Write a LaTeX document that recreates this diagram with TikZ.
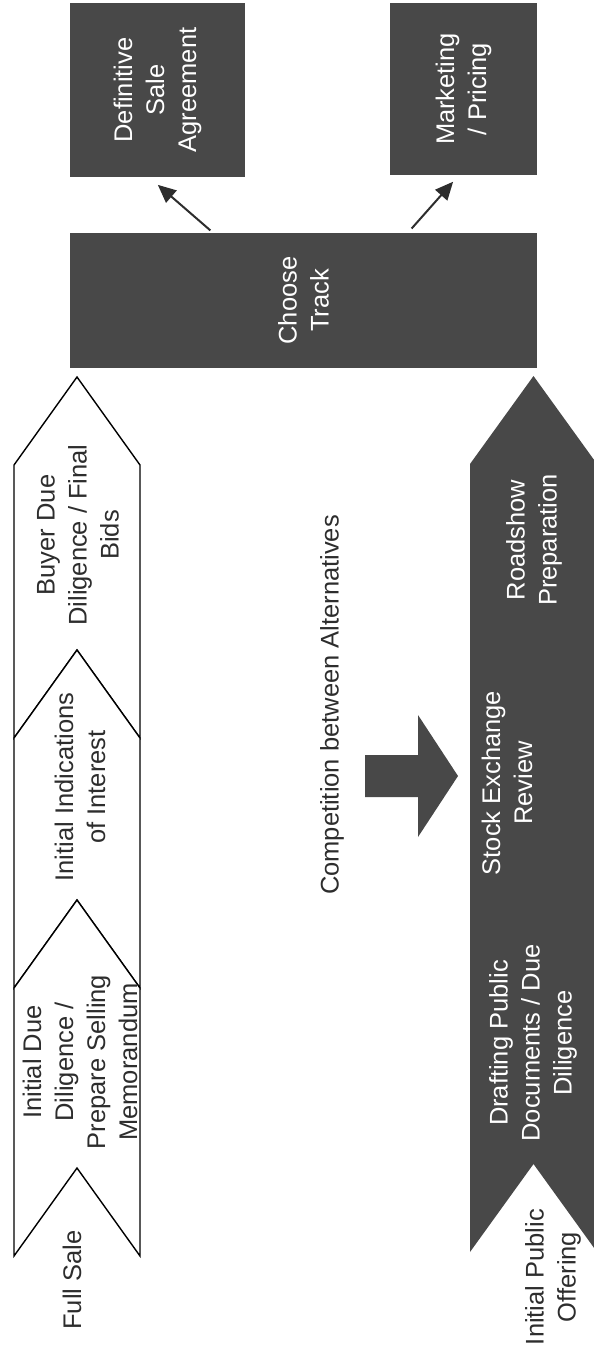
\documentclass[tikz,border=0pt]{standalone}
\usepackage{fontspec}
\setmainfont{Liberation Sans}
\usetikzlibrary{arrows.meta,calc}
\definecolor{boxgray}{RGB}{72,72,72}
\definecolor{inkgray}{RGB}{45,45,45}
\tikzset{
  stage/.style={draw=black,line width=1.4pt,fill=white},
  darkbox/.style={fill=boxgray,rotate=90,text=white,align=center,inner sep=0pt,outer sep=0pt,
    font=\fontsize{25.5}{32}\selectfont},
  steptext/.style={rotate=90,align=center,text=inkgray,font=\fontsize{25.5}{32}\selectfont},
  phasetext/.style={steptext,text=white},
  choice/.style={draw=inkgray,line width=2pt,-{Triangle[length=18pt,width=16pt]}}
}
\begin{document}
\begin{tikzpicture}[x=1pt,y=-1pt]
\useasboundingbox (0,0) rectangle (594,1354);
% full sale stages
\foreach \ya/\yb in {377/650,650/900,900/1168}
  \draw[stage] (14,\ya+88) -- (77,\ya) -- (140,\ya+88) -- (140,\yb+88) -- (77,\yb) -- (14,\yb+88) -- cycle;
\node[steptext] (initdue) at (80,1062) {Initial Due\\Diligence /\\Prepare Selling\\Memorandum};
\node[steptext] (indic) at (80,787) {Initial Indications\\of Interest};
\node[steptext] (buyer) at (78,535) {Buyer Due\\Diligence / Final\\Bids};
\node[steptext] (fullsale) at (72,1280) {Full Sale};
% initial public offering band
\fill[boxgray] (470,464) -- (533.5,376) -- (597,464) -- (597,1252) -- (533.5,1164) -- (470,1252) -- cycle;
\node[phasetext] (roadshow) at (534,540) {Roadshow\\Preparation};
\node[phasetext] (review) at (507,783) {Stock Exchange\\Review};
\node[phasetext] (drafting) at (533,1043) {Drafting Public\\Documents / Due\\Diligence};
\node[steptext] (ipo) at (553,1277) {Initial Public\\Offering};
% competition
\node[steptext] (compet) at (332,705) {Competition between Alternatives};
\fill[boxgray] (365,755) -- (418,755) -- (418,715) -- (458,776) -- (418,837) -- (418,797) -- (365,797) -- cycle;
% outcome boxes
\node[darkbox,minimum width=135pt,minimum height=467pt] (track) at (303.5,300.5) {Choose\\Track};
\node[darkbox,minimum width=174pt,minimum height=175pt] (defsale) at (157.5,90) {Definitive\\Sale\\Agreement};
\node[darkbox,minimum width=172pt,minimum height=147pt] (mkt) at (463.5,89) {Marketing\\/ Pricing};
\draw[choice,shorten <=4pt,shorten >=12pt] ($(track.north east)!0.307!(track.south east)$) -- ($(defsale.north west)!0.45!(defsale.south west)$);
\draw[choice,shorten <=6pt,shorten >=9pt] ($(track.north east)!0.723!(track.south east)$) -- ($(mkt.north west)!0.47!(mkt.south west)$);
\end{tikzpicture}
\end{document}
